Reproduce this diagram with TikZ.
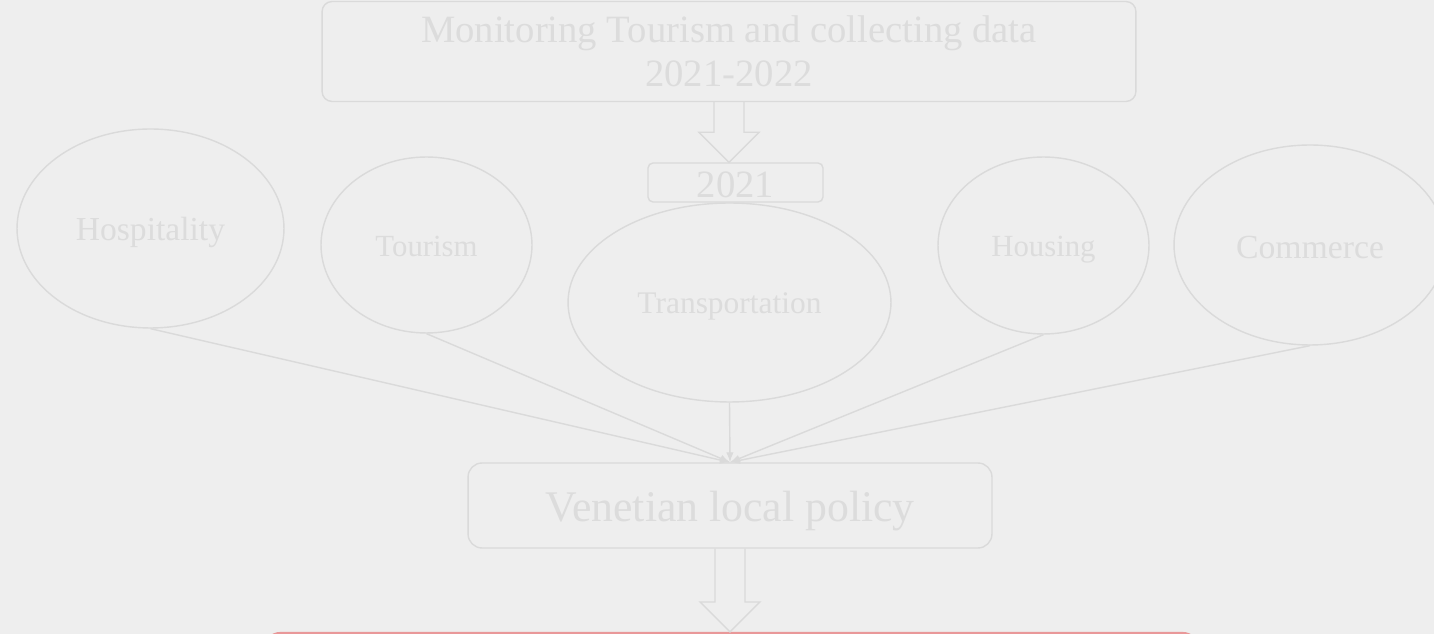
\documentclass[tikz,border=0pt]{standalone}
\usepackage{fontspec}
\setmainfont{Liberation Serif}
\usetikzlibrary{shapes.geometric,arrows.meta,calc}

\definecolor{bg}{RGB}{238,238,238}
\definecolor{linegray}{RGB}{218,218,218}
\definecolor{textgray}{RGB}{220,220,220}
\definecolor{goalred}{RGB}{233,152,153}

\newcommand{\blockarrow}[3]{\draw[linegray] ($(#1)+(-#3,0)$) -- ($(#2)+(-#3,-30)$) -- ($(#2)+(-30,-30)$) -- (#2) -- ($(#2)+(30,-30)$) -- ($(#2)+(#3,-30)$) -- ($(#1)+(#3,0)$);}
\newcommand{\sunk}[2][2.3pt]{\raisebox{-#1}[\height][\depth]{#2}}

\begin{document}
\begin{tikzpicture}[x=0.02cm, y=-0.02cm, line width=0.8pt, >={Latex[length=2mm,width=1.5mm]},
	box/.style={draw=linegray, text=textgray, rounded corners=0.2cm, inner sep=0pt, align=center},
	sector/.style={ellipse, draw=linegray, text=textgray, inner sep=0pt}]
			\fill[bg] (0,0) rectangle (1434,634);
			\useasboundingbox (0,0) rectangle (1434,634);
			
			\node[box, minimum width=16.28cm, minimum height=2cm, font=\fontsize{22}{25}\selectfont] (monitor) at (729,51.5) {Monitoring Tourism and collecting data\\2021-2022};
			\node[box, rounded corners=0.1cm, minimum width=3.5cm, minimum height=0.78cm, font=\fontsize{22}{25}\selectfont] (year) at (735.5,182.5) {\sunk[1.4pt]{2021}};
			
			\begin{scope}[every node/.style={sector, font=\fontsize{17.5}{20}\selectfont}]
			\node[minimum width=5.34cm, minimum height=3.98cm, font=\fontsize{19.1}{22}\selectfont] (hosp) at (150.5,228.5) {\sunk{Hospitality}};
			\node[minimum width=4.22cm, minimum height=3.52cm] (tour) at (426.5,245) {\sunk[0.8pt]{Tourism}};
			\node[minimum width=6.46cm, minimum height=3.98cm, font=\fontsize{17.9}{20}\selectfont] (trans) at (729.5,302.5) {\sunk[2.5pt]{Transportation}};
			\node[minimum width=4.22cm, minimum height=3.54cm] (hous) at (1043.5,245.5) {\sunk{Housing}};
			\node[minimum width=5.44cm, minimum height=4cm, font=\fontsize{19.2}{22}\selectfont] (comm) at (1310,245) {\sunk[1.5pt]{Commerce}};
			\end{scope}
			
			\node[box, rounded corners=0.28cm, minimum width=10.48cm, minimum height=1.7cm, font=\fontsize{24.9}{28}\selectfont] (policy) at (730,505.5) {\sunk[3pt]{Venetian local policy}};
			\node[draw=goalred, line width=1.2pt, rounded corners=0.3cm, minimum width=18.66cm, minimum height=2cm, inner sep=0pt] (goal) at (731.5,683) {};
			
			\coordinate (tip1) at (monitor.south |- year.north);
			\coordinate (tip2) at (policy.south |- goal.north);
			\blockarrow{monitor.south}{tip1}{15}
			\blockarrow{policy.south}{tip2}{15}
			
			\path [->, linegray] (hosp.south) edge (policy.north);
			\path [->, linegray] (tour.south) edge (policy.north);
			\path [->, linegray] (trans.south) edge (policy.north);
			\path [->, linegray] (hous.south) edge (policy.north);
			\path [->, linegray] (comm.south) edge (policy.north);
\end{tikzpicture}
\end{document}
